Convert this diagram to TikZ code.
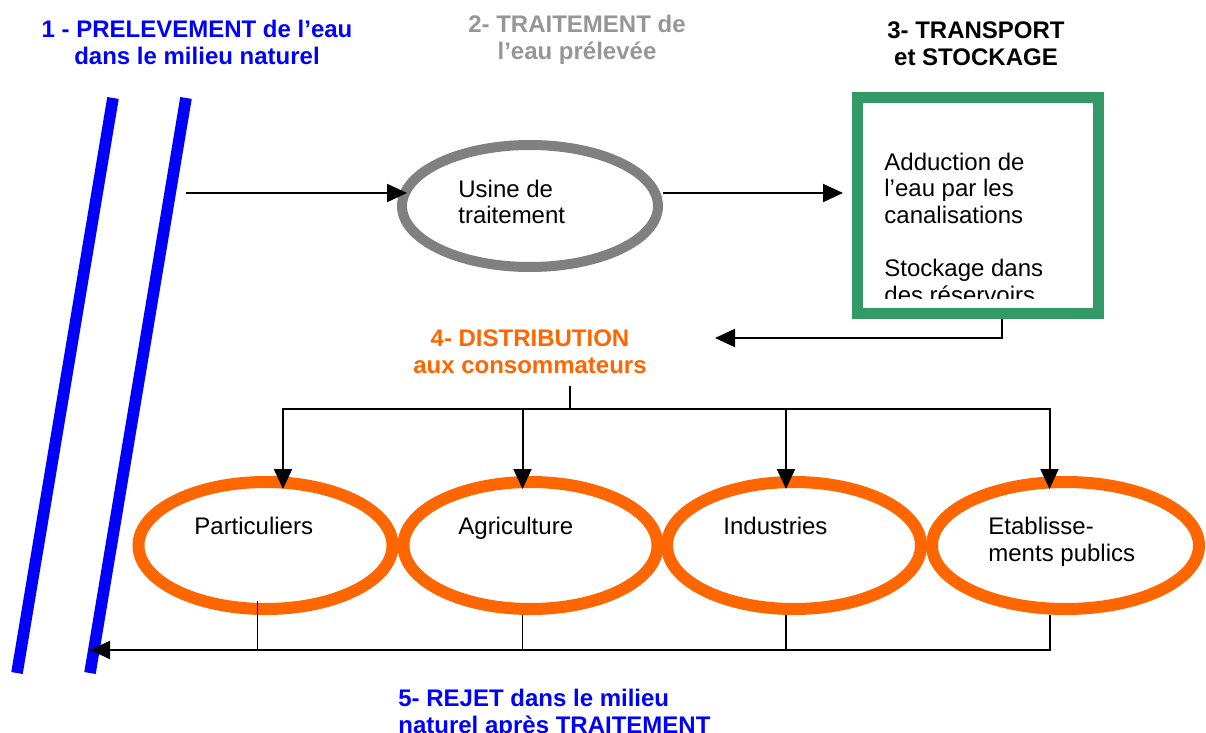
\documentclass[tikz,border=0pt]{standalone}
\usepackage{fontspec}
\setmainfont{Liberation Sans}
\usetikzlibrary{arrows.meta,shapes.geometric}
\definecolor{riverblue}{RGB}{0,0,255}
\definecolor{plantgray}{RGB}{128,128,128}
\definecolor{titlegray}{RGB}{150,150,150}
\definecolor{storegreen}{RGB}{51,153,102}
\definecolor{distorange}{RGB}{255,102,0}
\begin{document}
\begin{tikzpicture}[x=0.5pt,y=-0.5pt,
  txt/.style={font=\fontsize{12}{13.3}\selectfont, inner sep=0pt, align=left, anchor=base west},
  title/.style={font=\fontsize{12}{13.5}\selectfont\bfseries, inner sep=0pt, align=center, anchor=base},
  arr/.style={-{Triangle[length=10pt,width=9pt]}, line width=1pt},
  link/.style={line width=0.9pt},
  usage/.style={ellipse, draw=distorange, line width=6pt, minimum height=63.5pt, inner sep=0pt}]

\useasboundingbox (0,0) rectangle (1206,733);

\draw[riverblue, line width=5.8pt] (113,98) -- (17,673);
\draw[riverblue, line width=5.8pt] (186,98) -- (90,673);

\node[title, riverblue] (t1) at (197,65) {1 - PRELEVEMENT de l’eau\\dans le milieu naturel};
\node[title, titlegray] (t2) at (577,60) {2- TRAITEMENT de\\l’eau prélevée};
\node[title] (t3) at (976,66) {3- TRANSPORT\\et STOCKAGE};
\node[title, distorange] (t4) at (530,373) {4- DISTRIBUTION\\aux consommateurs};
\node[title, riverblue, align=left, anchor=base west] (t5) at (398,733) {5- REJET dans le milieu\\naturel après TRAITEMENT};

\node[ellipse, draw=plantgray, line width=5pt, minimum width=128pt, minimum height=61pt, inner sep=0pt] (usine) at (530,206) {};
\node[txt] (usinetxt) at (458,224) {Usine de\\traitement};

\node[draw=storegreen, line width=5.5pt, minimum width=120.5pt, minimum height=108pt, inner sep=0pt] (stock) at (978,205.5) {};
\begin{scope}
\clip (862,102) rectangle (1094,298);
\node[txt] (stocktxt) at (884,303) {Adduction de\\l’eau par les\\canalisations\\[13.3pt]Stockage dans\\des réservoirs};
\end{scope}

\foreach \name/\x/\w in {part/265.5/127pt, agri/530.5/127pt, indu/794/127pt, etab/1065.5/133.5pt}
  \node[usage, minimum width=\w] (\name) at (\x,545.5) {};

\node[txt] (parttxt) at (194,534) {Particuliers};
\node[txt] (agritxt) at (458,534) {Agriculture};
\node[txt] (indutxt) at (723,534) {Industries};
\node[txt] (etabtxt) at (988,561) {Etablisse-\\ments publics};

\coordinate (prise) at (186,193);
\draw[arr, shorten >=-5pt] (prise) -- (prise -| usine.west);
\draw[arr, shorten >=4.5pt] (usine.east |- prise) -- (stock.west |- prise);

\coordinate (versdist) at (715,338);
\draw[arr] ([xshift=12pt]stock.south) |- (versdist);

\coordinate (bus) at (570,409);
\draw[link, shorten <=6pt] (bus |- t4.south) -- (bus);
\foreach \name/\dx in {part/8.75pt, agri/-4pt, indu/-4pt, etab/-8pt}
  \draw[arr, shorten >=-6.5pt] (bus) -| ([xshift=\dx]\name.north);

\coordinate (rejet) at (90,650);
\draw[link] ([xshift=-4pt,yshift=7pt]part.south) |- (rejet);
\foreach \name in {agri, indu}
  \draw[link] ([xshift=-4pt]\name.south) |- (rejet);
\draw[arr] ([xshift=-8pt]etab.south) |- (rejet);
\end{tikzpicture}
\end{document}
